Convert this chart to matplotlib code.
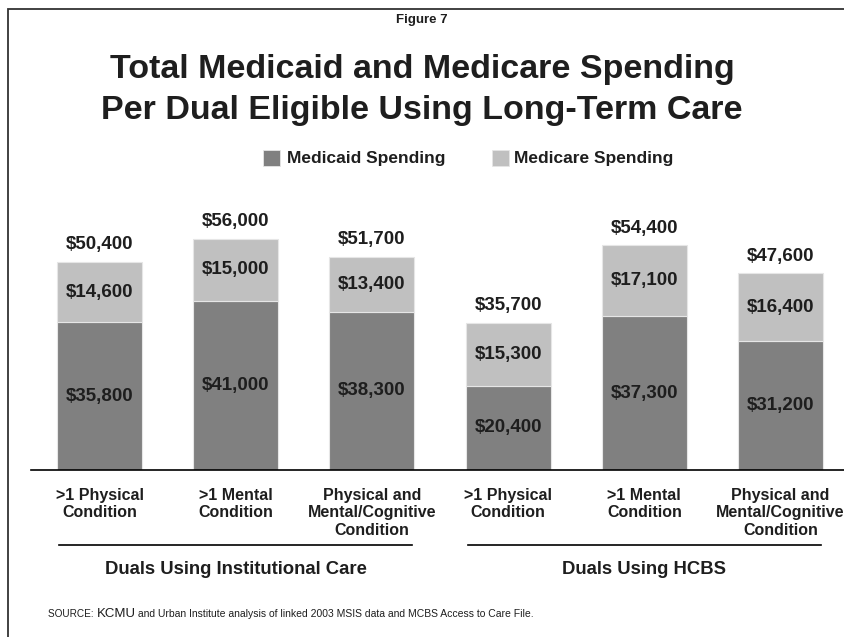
import matplotlib
matplotlib.use('Agg')
import matplotlib.pyplot as plt
from matplotlib.patches import Rectangle
from matplotlib.lines import Line2D
from matplotlib.transforms import blended_transform_factory

plt.rcParams['font.family'] = ['Liberation Sans', 'DejaVu Sans']

# Spending per dual eligible, by condition group
categories = ['>1 Physical\nCondition', '>1 Mental\nCondition',
              'Physical and\nMental/Cognitive\nCondition',
              '>1 Physical\nCondition', '>1 Mental\nCondition',
              'Physical and\nMental/Cognitive\nCondition']
medicaid = [35800, 41000, 38300, 20400, 37300, 31200]
medicare = [14600, 15000, 13400, 15300, 17100, 16400]
totals = [50400, 56000, 51700, 35700, 54400, 47600]
groups = ['Duals Using Institutional Care', 'Duals Using HCBS']
group_centers = [1, 4]

MEDICAID_COLOR = '#808080'
MEDICARE_COLOR = '#c0c0c0'
TEXT_COLOR = '#1e1e1e'

W, H = 844, 637


def fx(px):
    return px / W


def fy(py):
    return 1 - py / H


def money(v):
    return f'${v:,.0f}'


fig = plt.figure(figsize=(W / 100, H / 100), dpi=100)

# page frame (top and left edges only visible)
fig.add_artist(Rectangle((fx(8), -0.1), 1.2, fy(9) + 0.1, transform=fig.transFigure,
                         fill=False, edgecolor='#333333', linewidth=1.3))

ax = fig.add_axes([fx(31), fy(470), fx(844 - 31), 289 / H])
x = list(range(len(categories)))
ax.bar(x, medicaid, width=0.624, color=MEDICAID_COLOR, edgecolor='#e6e6e6', linewidth=0.8)
ax.bar(x, medicare, width=0.624, bottom=medicaid, color=MEDICARE_COLOR,
       edgecolor='#e6e6e6', linewidth=0.8)
ax.set_ylim(0, 70000)
ax.set_xlim(-0.503, 5.466)
for side in ['top', 'right', 'left']:
    ax.spines[side].set_visible(False)
ax.spines['bottom'].set_linewidth(1.2)
ax.spines['bottom'].set_color('black')
ax.set_xticks([])
ax.set_yticks([])

label_kw = dict(ha='center', va='center', fontsize=13.5, fontweight='bold', color=TEXT_COLOR)
for i in x:
    ax.text(i, medicaid[i] / 2, money(medicaid[i]), **label_kw)
    ax.text(i, medicaid[i] + medicare[i] / 2, money(medicare[i]), **label_kw)
    ax.annotate(money(totals[i]), (i, totals[i]), xytext=(0, 12.2),
                textcoords='offset points', **label_kw)

# category labels and group brackets below the axis
tr = blended_transform_factory(ax.transData, fig.transFigure)
for i, cat in enumerate(categories):
    ax.text(i, fy(488), cat, transform=tr, ha='center', va='top', fontsize=11.5,
            fontweight='bold', color=TEXT_COLOR, linespacing=1.2)
for gc, name in zip(group_centers, groups):
    fig.add_artist(Line2D([gc - 1.297, gc + 1.297], [fy(545), fy(545)], transform=tr,
                          color='black', linewidth=1.2))
    ax.text(gc, fy(570), name, transform=tr, ha='center', va='center', fontsize=13.3,
            fontweight='bold', color=TEXT_COLOR)

# titles
fig.text(0.5, fy(20), 'Figure 7', ha='center', va='center', fontsize=9.5,
         fontweight='bold', color=TEXT_COLOR)
fig.text(0.5, fy(78), 'Total Medicaid and Medicare Spending', ha='center', va='baseline',
         fontsize=24.5, fontweight='bold', color=TEXT_COLOR)
fig.text(0.5, fy(119), 'Per Dual Eligible Using Long-Term Care', ha='center', va='baseline',
         fontsize=24.5, fontweight='bold', color=TEXT_COLOR)

# legend
for sq_x, txt_x, color, label in [(263, 287, MEDICAID_COLOR, 'Medicaid Spending'),
                                  (492, 514, MEDICARE_COLOR, 'Medicare Spending')]:
    fig.add_artist(Rectangle((fx(sq_x), fy(166)), fx(17), 16 / H, transform=fig.transFigure,
                             facecolor=color, edgecolor='#e6e6e6', linewidth=0.6))
    fig.text(fx(txt_x), fy(159), label, ha='left', va='center', fontsize=12.5,
             fontweight='bold', color=TEXT_COLOR)

# source note with larger KCMU
fig.canvas.draw()
renderer = fig.canvas.get_renderer()
xpos = fx(48)
for piece, size in [('SOURCE: ', 7.2), ('KCMU', 9.5),
                    (' and Urban Institute analysis of linked 2003 MSIS data and MCBS Access to Care File.', 7.5)]:
    t = fig.text(xpos, fy(617), piece, ha='left', va='baseline', fontsize=size, color=TEXT_COLOR)
    bb = t.get_window_extent(renderer)
    xpos = bb.x1 / W

fig.savefig('out.png', dpi=100)
